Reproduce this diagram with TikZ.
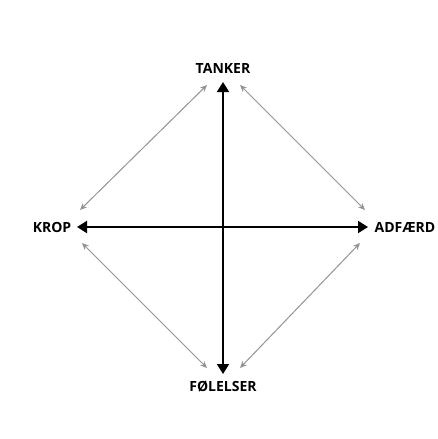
\documentclass[tikz,border=0pt]{standalone}
\usepackage{fontspec}
\setmainfont{Open Sans}
\usetikzlibrary{arrows.meta}

\begin{document}
\begin{tikzpicture}[x=1pt, y=-1pt, thick,
    lbl/.style={font=\fontsize{14}{16}\selectfont\bfseries, inner sep=0pt},
    axis/.style={{Triangle[width=12pt,length=10pt]}-{Triangle[width=12pt,length=10pt]}, line width=2pt, black},
    diag/.style={{Stealth[width=6pt,length=7pt]}-{Stealth[width=6pt,length=7pt]}, line width=1pt, gray!85}]
    \useasboundingbox (0,0) rectangle (437,439);
    % Labels
    \node[lbl] (tanker) at (223,68) {TANKER};
    \node[lbl] (krop) at (52,227) {KROP};
    \node[lbl] (adfaerd) at (405,227) {ADFÆRD};
    \node[lbl] (folelser) at (223,387) {FØLELSER};
    % Axis ends
    \coordinate (top) at (223,82); \coordinate (bot) at (223,374);
    \coordinate (lft) at (77,227); \coordinate (rgt) at (368,227);
    \draw[axis] (top) -- (bot);
    \draw[axis] (lft) -- (rgt);
    % Diagonals
    \coordinate (tl1) at (207,85);  \coordinate (tl2) at (80,210);
    \coordinate (tr1) at (240,85);  \coordinate (tr2) at (365,210);
    \coordinate (bl1) at (82,243);  \coordinate (bl2) at (207,368);
    \coordinate (br1) at (360,243); \coordinate (br2) at (240,368);
    \foreach \a/\b in {tl1/tl2, tr1/tr2, bl1/bl2, br1/br2}
        \draw[diag] (\a) -- (\b);
\end{tikzpicture}
\end{document}
